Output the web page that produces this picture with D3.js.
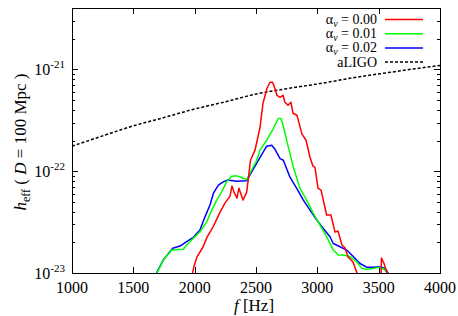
<!DOCTYPE html>
<html>
<head>
<meta charset="utf-8">
<script src="https://cdn.jsdelivr.net/npm/d3@7"></script>
<style>
  body { margin: 0; background: #fff; }
</style>
</head>
<body>
<div id="chart"></div>
<script>
// values (f in Hz, h_eff at D = 100 Mpc)
var fRed = [1975, 1995, 2019, 2068, 2101, 2150, 2207, 2247, 2288, 2304, 2321, 2345, 2361, 2394, 2424, 2439, 2455, 2492, 2533, 2557, 2590, 2614, 2635, 2651, 2671, 2696, 2720, 2736, 2761, 2785, 2802, 2834, 2851, 2875, 2908, 2940, 2965, 2981, 3005, 3030, 3076, 3111, 3144, 3168, 3201, 3226, 3250, 3291, 3323, 3340, 3505, 3520, 3523, 3535, 3543, 3568, 3580];
var hRed = [9.0e-24, 1.17e-23, 1.44e-23, 1.80e-23, 2.25e-23, 2.83e-23, 3.96e-23, 4.85e-23, 5.69e-23, 7.13e-23, 6.22e-23, 5.43e-23, 6.81e-23, 5.20e-23, 6.22e-23, 8.73e-23, 1.28e-22, 1.61e-22, 2.70e-22, 4.64e-22, 6.52e-22, 7.46e-22, 7.46e-22, 6.67e-22, 5.56e-22, 5.31e-22, 5.56e-22, 4.74e-22, 4.43e-22, 4.74e-22, 3.70e-22, 3.54e-22, 2.96e-22, 2.31e-22, 2.01e-22, 1.37e-22, 1.12e-22, 1.09e-22, 6.81e-23, 6.51e-23, 3.71e-23, 3.71e-23, 2.52e-23, 2.58e-23, 1.88e-23, 1.76e-23, 1.44e-23, 1.28e-23, 1.0e-23, 8.0e-24, 8.0e-24, 1.0e-23, 1.40e-23, 1.30e-23, 1.25e-23, 1.0e-23, 8.0e-24];

var fGreen = [1685, 1744, 1813, 1907, 1935, 1989, 2043, 2098, 2139, 2180, 2220, 2261, 2302, 2343, 2383, 2424, 2506, 2533, 2587, 2641, 2682, 2704, 2723, 2763, 2804, 2859, 2913, 2967, 3022, 3076, 3130, 3171, 3212, 3266, 3321, 3362, 3402, 3456, 3511, 3552, 3590];
var hGreen = [9.5e-24, 1.34e-23, 1.68e-23, 1.71e-23, 1.88e-23, 2.19e-23, 2.54e-23, 3.18e-23, 4.15e-23, 5.20e-23, 6.27e-23, 7.85e-23, 8.93e-23, 8.99e-23, 8.67e-23, 8.26e-23, 1.28e-22, 1.61e-22, 2.01e-22, 2.62e-22, 3.29e-22, 3.29e-22, 2.76e-22, 1.73e-22, 1.10e-22, 6.76e-23, 5.20e-23, 3.85e-23, 2.96e-23, 2.27e-23, 1.68e-23, 1.50e-23, 1.50e-23, 1.45e-23, 1.29e-23, 1.11e-23, 1.09e-23, 1.11e-23, 1.14e-23, 1.07e-23, 9.5e-24];

var fBlue = [1680, 1744, 1821, 1880, 1935, 1989, 2043, 2084, 2125, 2152, 2193, 2233, 2266, 2343, 2424, 2506, 2587, 2628, 2655, 2696, 2723, 2777, 2832, 2886, 2940, 2995, 3049, 3103, 3130, 3185, 3239, 3293, 3348, 3402, 3456, 3511, 3552, 3590];
var hBlue = [9.5e-24, 1.34e-23, 1.75e-23, 1.84e-23, 2.03e-23, 2.24e-23, 2.64e-23, 3.56e-23, 4.65e-23, 6.04e-23, 7.29e-23, 7.85e-23, 8.17e-23, 7.98e-23, 8.07e-23, 1.20e-22, 1.76e-22, 1.80e-22, 1.64e-22, 1.33e-22, 1.28e-22, 8.73e-23, 6.76e-23, 5.20e-23, 4.15e-23, 3.31e-23, 2.74e-23, 2.27e-23, 1.95e-23, 1.81e-23, 1.68e-23, 1.45e-23, 1.24e-23, 1.14e-23, 1.14e-23, 1.15e-23, 1.11e-23, 9.5e-24];

var fLigo = [1000, 1250, 1489, 1750, 1978, 2250, 2492, 2750, 3022, 3250, 3511, 3750, 4000];
var hLigo = [1.76e-22, 2.22e-22, 2.76e-22, 3.36e-22, 4.01e-22, 4.80e-22, 5.69e-22, 6.45e-22, 7.24e-22, 8.10e-22, 9.04e-22, 9.95e-22, 1.09e-21];

var xTicks = [1000, 1500, 2000, 2500, 3000, 3500, 4000];
var yExps = [-23, -22, -21];
var legendValues = ['0.00', '0.01', '0.02'];

var serif = '"Liberation Serif", "DejaVu Serif", serif';
var width = 458, height = 316;
var margin = { top: 8, right: 18, bottom: 43, left: 72 };
var w = width - margin.left - margin.right;
var h = height - margin.top - margin.bottom;

var svg = d3.select('#chart').append('svg')
  .attr('width', width)
  .attr('height', height)
  .attr('font-family', serif)
  .style('display', 'block');

var g = svg.append('g')
  .attr('transform', 'translate(' + margin.left + ',' + margin.top + ')');

var x = d3.scaleLinear().domain([1000, 4000]).range([0, w]);
var y = d3.scaleLog().domain([1e-23, 4e-21]).range([h, 0]);

g.append('clipPath').attr('id', 'clip')
  .append('rect').attr('width', w).attr('height', h);

// ticks, inward on all sides
var ticks = g.append('g').attr('stroke', '#000').attr('stroke-width', 1);
xTicks.slice(1, -1).forEach(function(t) {
  var px = Math.round(x(t)) + 0.5;
  ticks.append('line').attr('x1', px).attr('x2', px).attr('y1', h).attr('y2', h - 6);
  ticks.append('line').attr('x1', px).attr('x2', px).attr('y1', 0).attr('y2', 6);
});
var yMinor = [];
yExps.forEach(function(e) {
  for (var k = 1; k <= 9; k++) {
    var v = k * Math.pow(10, e);
    if (v >= 1e-23 && v <= 4e-21) yMinor.push({ v: v, major: k === 1 });
  }
});
yMinor.forEach(function(t) {
  var py = Math.round(y(t.v)) + 0.5;
  var len = t.major ? 6 : 3;
  ticks.append('line').attr('x1', 0).attr('x2', len).attr('y1', py).attr('y2', py);
  ticks.append('line').attr('x1', w).attr('x2', w - len).attr('y1', py).attr('y2', py);
});

// tick labels
g.selectAll('.xl').data(xTicks).enter().append('text')
  .attr('class', 'xl')
  .attr('x', function(d) { return x(d); })
  .attr('y', h + 20)
  .attr('text-anchor', 'middle')
  .attr('font-size', 16)
  .text(function(d) { return d; });

yExps.forEach(function(e) {
  var t = g.append('text')
    .attr('x', -7)
    .attr('y', y(Math.pow(10, e)) + 6)
    .attr('text-anchor', 'end')
    .attr('font-size', 16);
  t.append('tspan').text('10');
  t.append('tspan').attr('dy', -7).attr('font-size', 11).text(String(e));
});

// curves
var line = d3.line()
  .x(function(d) { return x(d[0]); })
  .y(function(d) { return y(d[1]); });

var plot = g.append('g').attr('clip-path', 'url(#clip)');

plot.append('path')
  .datum(d3.zip(fLigo, hLigo))
  .attr('fill', 'none')
  .attr('stroke', '#000')
  .attr('stroke-width', 1.5)
  .attr('stroke-dasharray', '3,2')
  .attr('d', line.curve(d3.curveMonotoneX));

var series = [
  { f: fBlue, v: hBlue, color: '#0000ff' },
  { f: fGreen, v: hGreen, color: '#00ff00' },
  { f: fRed, v: hRed, color: '#ff0000' }
];
var plain = d3.line()
  .x(function(d) { return x(d[0]); })
  .y(function(d) { return y(d[1]); });
series.forEach(function(s) {
  plot.append('path')
    .datum(d3.zip(s.f, s.v))
    .attr('fill', 'none')
    .attr('stroke', s.color)
    .attr('stroke-width', 1.5)
    .attr('stroke-linejoin', 'round')
    .attr('d', plain);
});

// frame
g.append('rect')
  .attr('x', 0.5).attr('y', 0.5)
  .attr('width', w).attr('height', h)
  .attr('fill', 'none').attr('stroke', '#000');

// legend
var legColors = ['#ff0000', '#00ff00', '#0000ff'];
var legend = svg.append('g').attr('font-size', 14);
legendValues.forEach(function(v, i) {
  var ly = 19.5 + i * 14.2;
  var t = legend.append('text').attr('x', 377).attr('y', ly + 4.5).attr('text-anchor', 'end');
  t.append('tspan').text('\u03b1');
  t.append('tspan').attr('dy', 3).attr('font-size', 10).attr('font-style', 'italic').text('\u03bd');
  t.append('tspan').attr('dy', -3).text(' = ' + v);
  legend.append('line')
    .attr('x1', 385).attr('x2', 423).attr('y1', ly).attr('y2', ly)
    .attr('stroke', legColors[i]).attr('stroke-width', 1.5);
});
var ly4 = 19.5 + 3 * 14.2;
legend.append('text').attr('x', 377).attr('y', ly4 + 4.5).attr('text-anchor', 'end').text('aLIGO');
legend.append('line')
  .attr('x1', 385).attr('x2', 423).attr('y1', ly4).attr('y2', ly4)
  .attr('stroke', '#000').attr('stroke-width', 1.5).attr('stroke-dasharray', '3,2');

// axis titles
var xt = svg.append('text')
  .attr('x', margin.left + w / 2 - 2)
  .attr('y', 311)
  .attr('text-anchor', 'middle')
  .attr('font-size', 17);
xt.append('tspan').attr('font-style', 'italic').text('f');
xt.append('tspan').text(' [Hz]');

var yt = svg.append('text')
  .attr('transform', 'translate(26,142) rotate(-90)')
  .attr('text-anchor', 'middle')
  .attr('font-size', 17);
yt.append('tspan').attr('font-style', 'italic').text('h');
yt.append('tspan').attr('dy', 4).attr('font-size', 12).text('eff');
yt.append('tspan').attr('dy', -4).text(' ( ');
yt.append('tspan').attr('font-style', 'italic').text('D');
yt.append('tspan').text(' = 100 Mpc )');
</script>
</body>
</html>
